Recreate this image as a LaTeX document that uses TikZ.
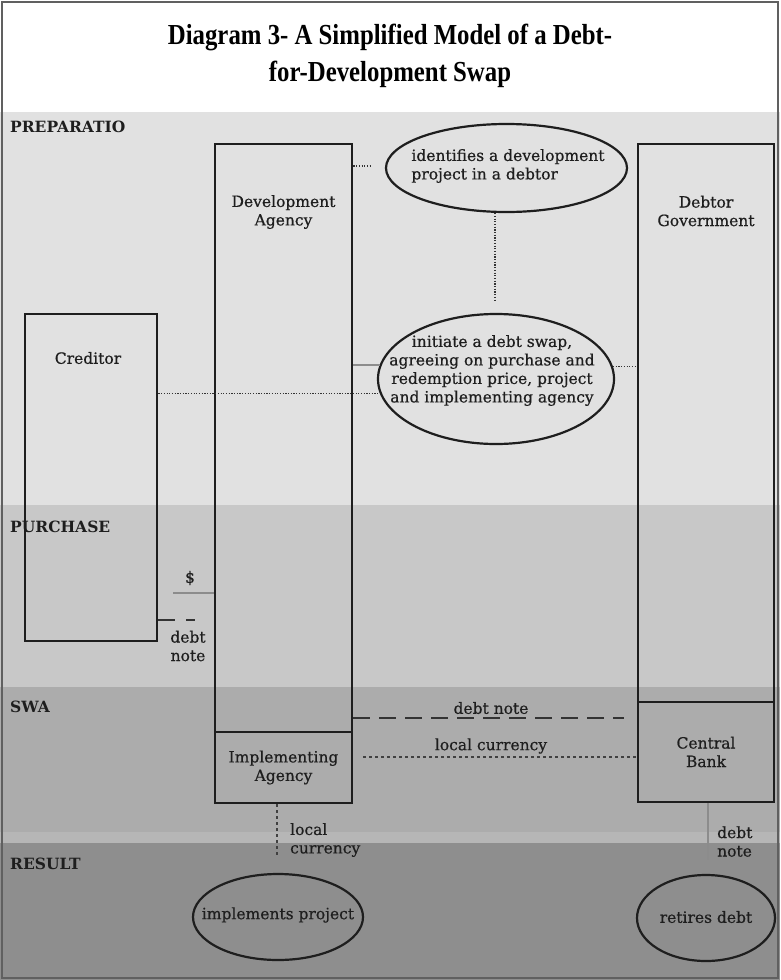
\documentclass[tikz,border=0pt]{standalone}
\usepackage{fontspec}
\setmainfont{DejaVu Serif}
\newfontfamily\lblfont{DejaVu Serif}[FakeBold=0.6]
\newfontfamily\titlefont{Liberation Serif}
\usetikzlibrary{shapes.geometric}
\definecolor{prepc}{HTML}{E1E1E1}
\definecolor{purc}{HTML}{C8C8C8}
\definecolor{swapc}{HTML}{ACACAC}
\definecolor{swapl}{HTML}{B6B6B6}
\definecolor{resc}{HTML}{8E8E8E}
\definecolor{framec}{HTML}{606060}
\definecolor{inkc}{HTML}{1E1E1E}
\begin{document}
\begin{tikzpicture}[x=1pt,y=-1pt,
  box/.style={draw=inkc, line width=2.8pt, inner sep=0pt},
  oval/.style={ellipse, draw=inkc, line width=2.2pt, inner sep=0pt},
  txt/.style={font=\lblfont\fontsize{15.5}{18.5}\selectfont, text=inkc, align=center, inner sep=0pt},
  bandlabel/.style={font=\bfseries\fontsize{15.5}{17}\selectfont, text=inkc, anchor=west, inner sep=0pt},
  fine/.style={dash pattern=on 1.2pt off 1.5pt, line width=1.3pt, draw=black!80},
  dotsline/.style={dash pattern=on 2.5pt off 3.5pt, line width=1.6pt, draw=black!75},
  dashline/.style={dash pattern=on 17pt off 9pt, line width=1.8pt, draw=black!80},
  grayline/.style={line width=2pt, draw=black!45},
]
\useasboundingbox (0,0) rectangle (780,980);
% backgrounds
\fill[white] (0,0) rectangle (780,112);
\fill[prepc] (0,112) rectangle (780,505);
\fill[purc] (0,505) rectangle (780,687);
\fill[swapc] (0,687) rectangle (780,843);
\fill[swapl] (0,832) rectangle (780,843);
\fill[resc] (0,843) rectangle (780,980);
\draw[framec, line width=2pt] (2,2) rectangle (778,978);

% title
\node[font=\titlefont\bfseries\fontsize{29}{37}\selectfont, align=center, inner sep=0pt] (title) at (390,56)
  {\scalebox{0.855}[1]{Diagram 3- A Simplified Model of a Debt-}\\\scalebox{0.855}[1]{for-Development Swap}};

% band labels
\node[bandlabel] (bp) at (10,127) {PREPARATIO};
\node[bandlabel] (bu) at (10,527) {PURCHASE};
\node[bandlabel] (bs) at (10,707) {SWA};
\node[bandlabel] (br) at (10,864) {RESULT};

% boxes
\node[box, minimum width=137pt, minimum height=588pt] (da) at (283.5,438) {};
\node[box, txt, minimum width=137pt, minimum height=71pt] (ia) at (283.5,767.5) {Implementing\\Agency};
\node[box, minimum width=132pt, minimum height=327pt] (cr) at (91,477.5) {};
\node[box, minimum width=136pt, minimum height=558pt] (dg) at (706,423) {};
\node[box, txt, minimum width=136pt, minimum height=100pt] (cb) at (706,752) {Central\\Bank};

\node[txt] (daT) at (283.5,212) {Development\\Agency};
\node[txt] (crT) at (88,358) {Creditor};
\node[txt] (dgT) at (706,211) {Debtor\\Government};

% ellipses
\node[oval, minimum width=241pt, minimum height=88pt] (e1) at (506.5,168) {};
\node[txt, align=left] (e1T) at (508,166) {identifies a development\\project in a debtor};
\node[oval, minimum width=236pt, minimum height=130pt] (e2) at (496,379) {};
\node[txt] (e2T) at (492,370.5) {initiate a debt swap,\\agreeing on purchase and\\redemption price, project\\and implementing agency};
\node[oval, minimum width=170pt, minimum height=86pt] (e3) at (278,917) {};
\node[txt] (e3T) at (278,915) {implements project};
\node[oval, minimum width=138pt, minimum height=86pt] (e4) at (706,918) {};
\node[txt] (e4T) at (706,917) {retires debt};

% labels
\node[txt] (dollar) at (190,578) {\$};
\node[txt] (dn1) at (188,646) {debt\\note};
\node[txt] (dn2) at (491,708) {debt note};
\node[txt] (lc1) at (491,746) {local currency};
\node[txt, align=left, anchor=west] (lc2) at (290,840) {local\\currency};
\node[txt, align=left, anchor=west] (dn3) at (717,841.5) {debt\\note};

% free ends
\coordinate (c1) at (372,166);
\coordinate (c2) at (495,302);
\coordinate (c4) at (173,593);
\coordinate (c5) at (195,620);
\coordinate (c6) at (624,718);
\coordinate (c7) at (363,757);
\coordinate (c8) at (277,858);
\coordinate (c9) at (708,860);

% connectors
\draw[fine] (c1 -| da.east) -- (c1);
\draw[fine] (c2 |- e1.south) -- (c2);
\draw[fine] (e2.187 -| cr.east) -- (e2.187);
\draw[grayline] (e2.173 -| da.east) -- (e2.173);
\draw[fine] (e2.6) -- (e2.6 -| dg.west);
\draw[grayline] (c4) -- (c4 -| da.west);
\draw[dashline, dash pattern=on 17pt off 11pt] (c5 -| cr.east) -- (c5);
\draw[dashline] (c6 -| da.east) -- (c6);
\draw[dotsline] (c7) -- (c7 -| cb.west);
\draw[dotsline] (c8 |- ia.south) -- (c8);
\draw[grayline] (c9 |- cb.south) -- (c9);
\end{tikzpicture}
\end{document}
